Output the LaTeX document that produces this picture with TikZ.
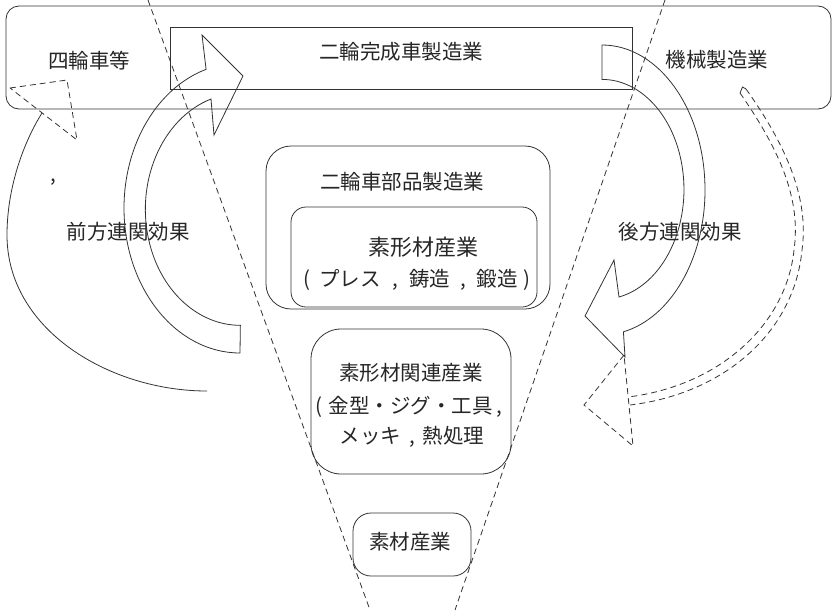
\documentclass[tikz,border=0pt]{standalone}
\usepackage{fontspec}
\setmainfont{Noto Sans CJK JP}
\newcommand\zcomma[1]{\makebox[#1em][c]{,}}
\begin{document}
\begin{tikzpicture}[x=1pt,y=-1pt,
  ln/.style={line width=0.8pt, draw=black!80},
  dsh/.style={ln, dash pattern=on 6pt off 4pt},
  rbox/.style={ln, rounded corners=#1, inner sep=0pt, outer sep=0pt},
  lbl/.style={inner sep=0pt, font=\fontsize{20.5}{32}\selectfont, text=black!85},
  lblL/.style={lbl, font=\fontsize{22}{32}\selectfont},
]
\useasboundingbox (0,0) rectangle (834,613);

% boxes
\node[rbox=13, minimum width=825, minimum height=103] (outer) at (418.5,57.5) {};
\node[rbox=0, minimum width=462, minimum height=62] (complete) at (401,58) {};
\node[rbox=25, minimum width=284, minimum height=163] (parts) at (408,227.5) {};
\node[rbox=15, minimum width=246, minimum height=100] (sokei) at (414,257) {};
\node[rbox=30, minimum width=200, minimum height=145] (kanren) at (411,401.5) {};
\node[rbox=18, minimum width=118, minimum height=63] (sozai) at (412,544.5) {};

% texts
\node[lbl] (t4w) at (89,61) {四輪車等};
\node[lbl] (t2w) at (401,52) {二輪完成車製造業};
\node[lbl] (tmach) at (717,60) {機械製造業};
\node[lbl] (tparts) at (402,182) {二輪車部品製造業};
\node[lblL] (tsk1) at (423.5,247) {素形材産業};
\node[lbl] (tsk2) at (417,280) {(\hspace{0.4em}プレス\zcomma{1.4}鋳造\zcomma{1.3}鍛造\hspace{0.25em})};
\node[lbl] (tkr1) at (411,373) {素形材関連産業};
\node[lbl] (tkr2) at (410.5,407) {(\hspace{0.3em}金型・ジグ・工具\zcomma{0.6}};
\node[lbl] (tkr3) at (412,437) {メッキ\zcomma{1.05}熱処理};
\node[lbl] (tsz) at (410,542) {素材産業};
\node[lbl] (tfwd) at (128,232) {前方連関効果};
\node[lbl] (tbwd) at (680,232) {後方連関効果};
\node[lbl] (tcomma) at (53,182) {,};

% funnel
\coordinate (fL1) at (148,0);
\coordinate (fL2) at (370,610);
\coordinate (fR1) at (665,0);
\coordinate (fR2) at (455,610);
\draw[dsh] (fL1) -- (fL2);
\draw[dsh] (fR1) -- (fR2);

% forward linkage arrow (left)
\draw[ln] (240,353) arc[start angle=90, end angle=253, x radius=116, y radius=145]
  -- (202,35) -- (243,76) -- (214,135) -- (211,99)
  arc[start angle=252, end angle=90, x radius=95, y radius=116] -- cycle;

% backward linkage arrow (right)
\draw[ln] (602,45) arc[start angle=-90, end angle=78, x radius=103, y radius=145]
  -- (625,357) -- (585,316) -- (614,260) -- (619,297)
  arc[start angle=78, end angle=-90, x radius=82, y radius=110] -- cycle;

% big left arc with dashed head
\coordinate (bA) at (207,391);
\coordinate (bB) at (42,113);
\draw[ln] (bA) .. controls (110,391) and (7,330) .. (7,235)
  .. controls (7,190) and (22,145) .. (bB);
\draw[dsh] (10,88) -- (67,80) -- (77,140) -- cycle;

% dashed double arrow (right)
\coordinate (dOa) at (746,89);
\coordinate (dOb) at (630,405);
\coordinate (dIa) at (740,93);
\coordinate (dIb) at (628,397);
\coordinate (dTop) at (742.5,87);
\draw[dsh] (dOa) .. controls (788,148) and (809,200) .. (802,250)
  .. controls (794,334) and (722,394) .. (dOb);
\draw[dsh] (dIa) .. controls (781,152) and (801,200) .. (794,250)
  .. controls (786,326) and (718,386) .. (dIb);
\draw[ln] (dIa) -- (dTop) -- (dOa);
\draw[dsh] (624,355) -- (584,405) -- (633,446) -- cycle;
\end{tikzpicture}
\end{document}
